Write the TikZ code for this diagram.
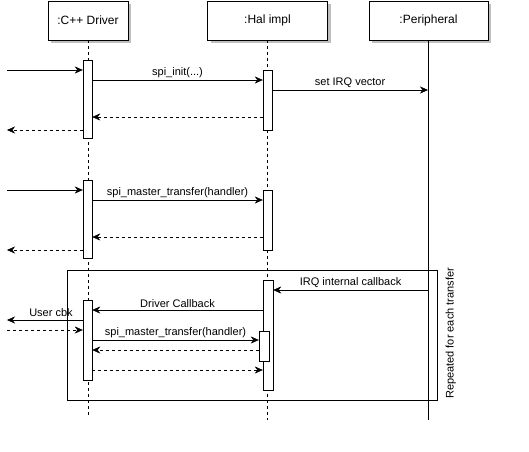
\documentclass[tikz,border=0pt]{standalone}
\usepackage{fontspec}
\setmainfont{Liberation Sans}
\usetikzlibrary{arrows.meta,shadows}

\tikzset{
    obj/.style={draw, fill=white, minimum height=39pt, inner sep=0pt,
        font=\fontsize{12}{14}\selectfont,
        drop shadow={shadow xshift=3pt, shadow yshift=-3pt, fill=black!25, opacity=1}},
    bar/.style={draw, fill=white, minimum width=9pt, inner sep=0pt},
    life/.style={dash pattern=on 3pt off 3pt},
    msg/.style={-{Stealth[length=8pt,width=7pt,inset=2.5pt]}},
    ret/.style={msg, dash pattern=on 3pt off 3pt},
    lbl/.style={font=\fontsize{11}{13}\selectfont, inner sep=1pt},
    up/.style={lbl, above, yshift=1.5pt}
}

\begin{document}
\begin{tikzpicture}[x=1pt, y=-1pt]
    \useasboundingbox (0,0) rectangle (529,451);

    % objects
    \node[obj, minimum width=80pt] (drv) at (88,20.5) {:C++ Driver};
    \node[obj, minimum width=120pt] (hal) at (267.5,20.5) {:Hal impl};
    \node[obj, minimum width=119pt] (per) at (428.5,20.5) {:Peripheral};

    % lifelines
    \coordinate (drvend) at (88,418);
    \coordinate (halend) at (267.5,420);
    \coordinate (perend) at (428,420);
    \draw[life] (drv.south) -- (drvend);
    \draw[life] (hal.south) -- (halend);
    \draw (per.south -| perend) -- (perend);

    % loop frame
    \node[draw, minimum width=370pt, minimum height=130pt, inner sep=0pt] (loop) at (252.5,335) {};
    \node[lbl, rotate=90, anchor=south west] (looplbl) at (457,400) {Repeated for each transfer};

    % activations
    \node[bar, minimum height=78pt] (d1) at (87.5,99) {};
    \node[bar, minimum height=60pt] (h1) at (267.5,100) {};
    \node[bar, minimum height=78pt] (d2) at (87.5,219) {};
    \node[bar, minimum height=60pt] (h2) at (267.5,220) {};
    \node[bar, minimum height=110pt, minimum width=10pt] (h3) at (268,335) {};
    \node[bar, minimum height=80pt] (d3) at (87.5,340) {};
    \node[bar, minimum height=30pt, minimum width=10pt] (h4) at (264,346) {};

    % free ends on the left
    \coordinate (l1) at (7,70);
    \coordinate (l2) at (7,130);
    \coordinate (l3) at (7,190);
    \coordinate (l4) at (7,250);
    \coordinate (l5) at (7,320);
    \coordinate (l6) at (7,330);

    % init
    \draw[msg] (l1) -- (d1.west |- l1);
    \draw[msg] (d1.east |- 0,80) -- node[up] {spi\_init(...)} (h1.west |- 0,80);
    \draw[msg] (h1.east |- 0,90) -- node[up] {set IRQ vector} (perend |- 0,90);
    \draw[ret] (h1.west |- 0,117) -- (d1.east |- 0,117);
    \draw[ret] (d1.west |- l2) -- (l2);

    % transfer
    \draw[msg] (l3) -- (d2.west |- l3);
    \draw[msg] (d2.east |- 0,200) -- node[up] {spi\_master\_transfer(handler)} (h2.west |- 0,200);
    \draw[ret] (h2.west |- 0,237) -- (d2.east |- 0,237);
    \draw[ret] (d2.west |- l4) -- (l4);

    % callback loop
    \draw[msg] (perend |- 0,290) -- node[up] {IRQ internal callback} (h3.east |- 0,290);
    \draw[msg] (h3.west |- 0,310) -- node[up] {Driver Callback} (d3.east |- 0,310);
    \draw[msg] (d3.west |- l5) -- node[up, yshift=1pt, pos=0.42] {User cbk} (l5);
    \draw[ret] (l6) -- (d3.west |- l6);
    \draw[msg] (d3.east |- 0,340) -- node[up] {spi\_master\_transfer(handler)} (h4.west |- 0,340);
    \draw[ret] (h4.west |- 0,350) -- (d3.east |- 0,350);
    \draw[ret] (d3.east |- 0,370) -- (h3.west |- 0,370);
\end{tikzpicture}
\end{document}
